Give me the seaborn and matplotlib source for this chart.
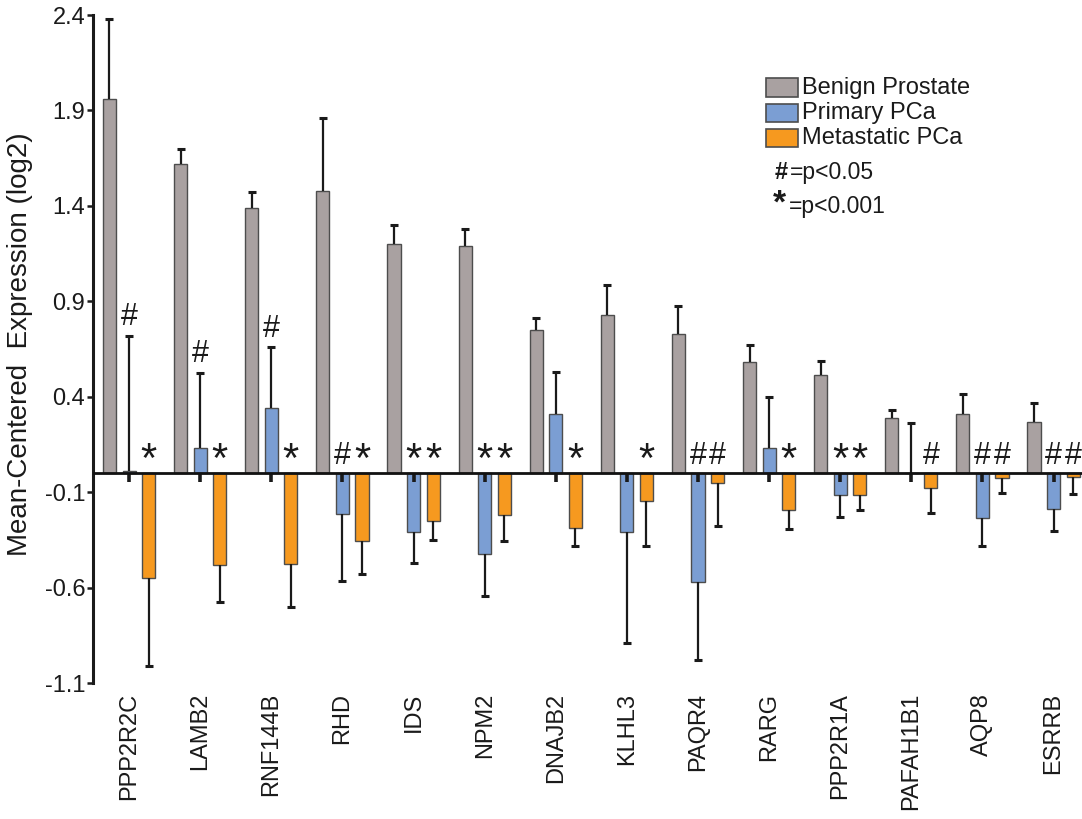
import numpy as np
import pandas as pd
import matplotlib
matplotlib.use("Agg")
import matplotlib.pyplot as plt
from matplotlib.patches import Rectangle
import seaborn as sns

# ---- data -------------------------------------------------------------
genes = ["PPP2R2C", "LAMB2", "RNF144B", "RHD", "IDS", "NPM2", "DNAJB2",
         "KLHL3", "PAQR4", "RARG", "PPP2R1A", "PAFAH1B1", "AQP8", "ESRRB"]
groups = ["Benign Prostate", "Primary PCa", "Metastatic PCa"]

benign = [1.96, 1.62, 1.39, 1.48, 1.20, 1.19, 0.75, 0.83, 0.73, 0.58, 0.515, 0.29, 0.31, 0.27]
benign_err = [0.42, 0.08, 0.08, 0.38, 0.10, 0.09, 0.06, 0.155, 0.145, 0.093, 0.07, 0.043, 0.106, 0.095]

primary = [0.01, 0.13, 0.34, -0.215, -0.31, -0.425, 0.31, -0.31, -0.57, 0.13, -0.117, 0.0, -0.234, -0.19]
primary_err = [0.71, 0.395, 0.32, 0.35, 0.16, 0.22, 0.22, 0.58, 0.41, 0.27, 0.115, 0.26, 0.15, 0.114]

metastatic = [-0.55, -0.483, -0.476, -0.357, -0.253, -0.222, -0.287, -0.149, -0.054, -0.194,
              -0.115, -0.08, -0.025, -0.022]
metastatic_err = [0.46, 0.195, 0.225, 0.17, 0.10, 0.133, 0.096, 0.234, 0.224, 0.10, 0.08, 0.13, 0.078, 0.088]

sig_primary = ["#", "#", "#", "#", "*", "*", "", "", "#", "", "*", "", "#", "#"]
sig_metastatic = ["*", "*", "*", "*", "*", "*", "*", "*", "#", "*", "*", "#", "#", "#"]

yticks = [-1.1, -0.6, -0.1, 0.4, 0.9, 1.4, 1.9, 2.4]
ytick_labels = ["-1.1", "-0.6", "-0.1", "0.4", "0.9", "1.4", "1.9", "2.4"]

colors = ["#a9a1a1", "#7b9ed3", "#f6991f"]
ink = "#1a1a1a"

# ---- style ------------------------------------------------------------
sns.set_theme(style="white")
plt.rcParams["font.family"] = ["Liberation Sans", "DejaVu Sans"]

W, H = 1082, 819
fig = plt.figure(figsize=(W / 100, H / 100), dpi=100)
ax = fig.add_axes([93 / W, 1 - 683 / H, 1 - 93 / W, (683 - 15) / H])

df = pd.DataFrame({
    "gene": genes * 3,
    "group": [g for g in groups for _ in genes],
    "value": benign + primary + metastatic,
})

sns.barplot(data=df, x="gene", y="value", hue="group", order=genes, hue_order=groups,
            palette=colors, saturation=1, width=0.825, gap=0.33, errorbar=None,
            edgecolor="#4d4d4d", linewidth=1.0, legend=False, ax=ax, zorder=2)

# bar centres per group, from the drawn bars
centers = []
for cont in ax.containers:
    xs = sorted(p.get_x() + p.get_width() / 2 for p in cont.patches)
    centers.append(xs)

# one-sided error bars, pointing away from zero
for xs, vals, errs in zip(centers, [benign, primary, metastatic],
                          [benign_err, primary_err, metastatic_err]):
    for x, v, e in zip(xs, vals, errs):
        end = v + e if v >= 0 else v - e
        ax.vlines(x, v, end, colors=ink, lw=1.6, zorder=3)
        ax.plot([x], [end], ls="none", marker="_", ms=6, mew=2.2, color=ink, zorder=3)

# short stub below the baseline on the primary bars
ax.vlines(centers[1], -0.045, 0, colors=ink, lw=2.6, zorder=4)

# baseline
ax.axhline(0, color="#111111", lw=2.0, zorder=4)

# significance marks
def mark(x, base, sym):
    if sym == "#":
        ax.text(x, base + 0.05, "#", ha="center", va="baseline", fontsize=22, color=ink, zorder=5)
    elif sym == "*":
        ax.text(x, base + 0.005, "*", ha="center", va="baseline", fontsize=30, color=ink, zorder=5)

for x, v, e, s in zip(centers[1], primary, primary_err, sig_primary):
    if s:
        base = v + e + 0.005 if v > 0 else 0.0
        mark(x, base, s)
for x, s in zip(centers[2], sig_metastatic):
    if s:
        mark(x, 0.0, s)

# ---- axes -------------------------------------------------------------
ax.set_xlim(-0.507, 13.4)
ax.set_ylim(-1.1, 2.4)
ax.set_yticks(yticks, labels=ytick_labels)
ax.set_xticks(range(len(genes)), labels=genes, rotation=90)
ax.tick_params(axis="y", length=4, width=1.8, labelsize=17, pad=1.5, colors=ink, left=True)
ax.tick_params(axis="x", length=0, labelsize=17, pad=7, colors=ink)
for side in ["top", "right", "bottom"]:
    ax.spines[side].set_visible(False)
ax.spines["left"].set_linewidth(2.2)
ax.spines["left"].set_color(ink)
ax.set_xlabel("")
ax.set_ylabel("Mean-Centered  Expression (log2)", fontsize=20, color=ink)
ax.yaxis.set_label_coords(-0.0607, 0.507)
ax.grid(False)

# ---- legend -----------------------------------------------------------
def fx(x):
    return x / W

def fy(y):
    return 1 - y / H

for i, (lab, col) in enumerate(zip(groups, colors)):
    yc = 87.7 + i * 25.2
    fig.patches.append(Rectangle((fx(766), fy(yc + 9.2)), 32 / W, 18.4 / H,
                                 transform=fig.transFigure, facecolor=col,
                                 edgecolor="#4d4d4d", lw=1.2))
    fig.text(fx(802), fy(yc), lab, fontsize=17, va="center", ha="left", color=ink)

fig.text(fx(775), fy(179), "#", fontsize=17, fontweight="bold", va="baseline", ha="left", color=ink)
fig.text(fx(790), fy(179), "=p<0.05", fontsize=16.5, va="baseline", ha="left", color=ink)
fig.text(fx(773), fy(213), "*", fontsize=24, fontweight="bold", va="baseline", ha="left", color=ink)
fig.text(fx(789), fy(213), "=p<0.001", fontsize=16.5, va="baseline", ha="left", color=ink)

fig.savefig("out.png", dpi=100)
